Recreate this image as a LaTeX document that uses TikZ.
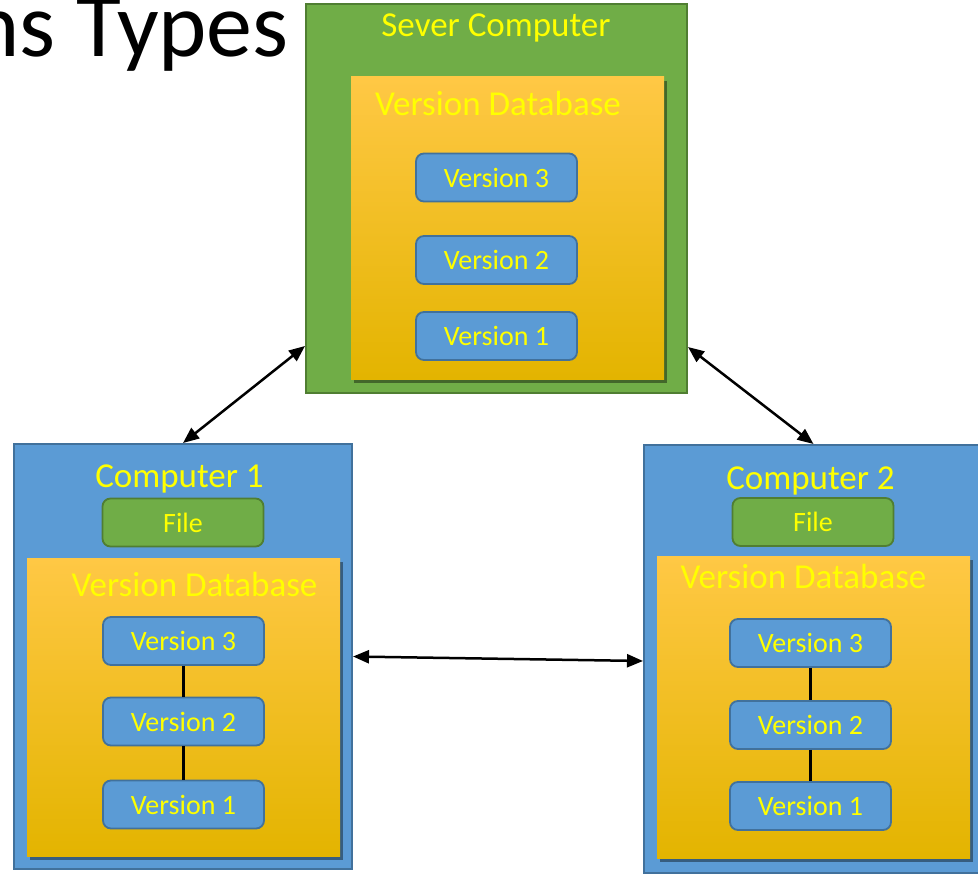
\documentclass[tikz,border=0pt]{standalone}
\usepackage{fontspec}
\setmainfont{Carlito}
\usetikzlibrary{arrows.meta,shadows}
\definecolor{gfill}{HTML}{70AD47}
\definecolor{gline}{HTML}{507E32}
\definecolor{bfill}{HTML}{5B9BD5}
\definecolor{bline}{HTML}{41719C}
\definecolor{otop}{HTML}{FFC845}
\definecolor{omid}{HTML}{FFC600}
\definecolor{obot}{HTML}{E3B400}
\definecolor{ytext}{HTML}{FFFF00}
\begin{document}
\begin{tikzpicture}[x=1pt,y=-1pt,
  compbox/.style={draw=bline, fill=bfill, line width=2pt, inner sep=0pt},
  srvbox/.style={draw=gline, fill=gfill, line width=2pt, inner sep=0pt},
  dbbox/.style={inner sep=0pt, top color=otop, middle color=omid, bottom color=obot,
    drop shadow={shadow xshift=3pt, shadow yshift=-4pt, opacity=0.4, fill=black}},
  verbox/.style={draw=bline, fill=bfill, line width=1.8pt, rounded corners=8pt,
    minimum width=161pt, minimum height=48pt, inner sep=0pt, text=ytext,
    font=\fontsize{28}{30}\selectfont},
  filebox/.style={verbox, draw=gline, fill=gfill},
  ylabel/.style={text=ytext, font=\fontsize{35}{40}\selectfont, inner sep=0pt, anchor=base},
  chain/.style={line width=2.5pt, black},
  biarrow/.style={line width=2.5pt, black, {Triangle[length=16pt,width=13pt]}-{Triangle[length=16pt,width=13pt]}}
]
\useasboundingbox (0,0) rectangle (978,875);
\clip (0,0) rectangle (978,875);

% title (cut off at the left and top edge, as in the reference)
\node[anchor=base east, inner sep=0pt, font=\fontsize{92}{96}\selectfont] (title) at (289,57) {ns Types};

% server
\node[srvbox, minimum width=381pt, minimum height=389pt] (server) at (496.5,198.5) {};
\node[dbbox, minimum width=313pt, minimum height=302pt] (sdb) at (507.5,228) {};
\node[ylabel] (stitle) at (496,37) {Sever Computer};
\node[ylabel] (sdbt) at (498,115) {Version Database};
\node[verbox] (s3) at (496.5,177.5) {Version 3};
\node[verbox] (s2) at (496.5,260) {Version 2};
\node[verbox] (s1) at (496.5,336) {Version 1};

% computer 1
\node[compbox, minimum width=338pt, minimum height=425pt] (c1) at (183,656.5) {};
\node[dbbox, minimum width=313pt, minimum height=298pt] (c1db) at (183.5,707) {};
\node[ylabel] (c1t) at (179.5,487) {Computer 1};
\node[filebox] (c1f) at (183,522.5) {File};
\node[ylabel] (c1dbt) at (194.5,596) {Version Database};
\node[verbox] (c13) at (183.5,641) {Version 3};
\node[verbox] (c12) at (183.5,721.5) {Version 2};
\node[verbox] (c11) at (183.5,804.5) {Version 1};
\draw[chain] (c13) -- (c12);
\draw[chain] (c12) -- (c11);

% computer 2
\node[compbox, minimum width=339pt, minimum height=428pt] (c2) at (813.5,659) {};
\node[dbbox, minimum width=313pt, minimum height=302pt] (c2db) at (813.5,707) {};
\node[ylabel] (c2t) at (810.5,489) {Computer 2};
\node[filebox] (c2f) at (813,522) {File};
\node[ylabel] (c2dbt) at (803.5,588) {Version Database};
\node[verbox] (c23) at (810.5,643) {Version 3};
\node[verbox] (c22) at (810.5,725) {Version 2};
\node[verbox] (c21) at (810.5,806) {Version 1};
\draw[chain] (c23) -- (c22);
\draw[chain] (c22) -- (c21);

% connectors
\draw[biarrow] ([yshift=-147.5pt]server.west) -- (c1.north);
\draw[biarrow] ([yshift=-148.5pt]server.east) -- (c2.north);
\draw[biarrow] (c1.east) -- ([yshift=-2pt]c2.west);
\end{tikzpicture}
\end{document}
